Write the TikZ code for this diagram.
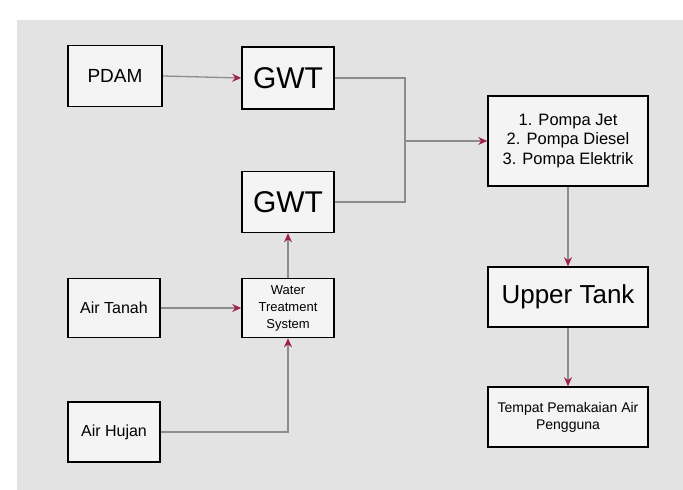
\documentclass[tikz,border=0pt]{standalone}
\usepackage{fontspec}
\setmainfont{Liberation Sans}
\usetikzlibrary{arrows.meta}
\definecolor{bg}{HTML}{E3E3E3}
\definecolor{boxfill}{HTML}{F4F4F4}
\definecolor{linegray}{HTML}{8C8C8C}
\definecolor{arrowred}{HTML}{A0204E}
\begin{document}
\begin{tikzpicture}[x=1pt,y=-1pt,
  blk/.style={draw=black,line width=1.6pt,fill=boxfill,inner sep=0pt,align=center,text=black},
  conn/.style={draw=linegray,line width=1.3pt},
  arr/.style={conn,-{Stealth[length=9pt,width=8pt,color=arrowred]}}]
\useasboundingbox (0,0) rectangle (683,490);
\fill[white] (0,0) rectangle (683,490);
\fill[bg] (17,20) rectangle (683,490);
% boxes
\node[blk,minimum width=94pt,minimum height=61pt,font=\fontsize{19}{23}\selectfont] (pdam) at (115,76) {PDAM};
\node[blk,minimum width=92pt,minimum height=62pt,font=\fontsize{30}{34}\selectfont] (gwta) at (288,78) {GWT};
\node[blk,minimum width=92pt,minimum height=61pt,font=\fontsize{30}{34}\selectfont] (gwtb) at (288,202) {GWT};
\node[blk,minimum width=160pt,minimum height=90pt,font=\fontsize{16.5}{19.5}\selectfont] (pump) at (568,141) {1. Pompa Jet\\2. Pompa Diesel\\3. Pompa Elektrik};
\node[blk,minimum width=160pt,minimum height=60pt,font=\fontsize{26}{30}\selectfont] (upper) at (568,297) {Upper Tank};
\node[blk,minimum width=160pt,minimum height=60pt,font=\fontsize{14}{17}\selectfont] (user) at (568,417) {Tempat Pemakaian Air\\Pengguna};
\node[blk,minimum width=92pt,minimum height=59pt,font=\fontsize{16}{20}\selectfont] (tanah) at (114,308) {Air Tanah};
\node[blk,minimum width=92pt,minimum height=59pt,font=\fontsize{13}{17}\selectfont] (treat) at (288,308) {Water\\Treatment\\System};
\node[blk,minimum width=92pt,minimum height=60pt,font=\fontsize{16}{20}\selectfont] (hujan) at (114,432) {Air Hujan};
% connectors
\coordinate (jmid) at (405,141);
\draw[arr] (pdam.east) -- (gwta.west);
\draw[conn] (gwta.east) -| (jmid) |- (gwtb.east);
\draw[arr] (jmid) -- (pump.west);
\draw[arr] (pump.south) -- (upper.north);
\draw[arr] (upper.south) -- (user.north);
\draw[arr] (tanah.east) -- (treat.west);
\draw[arr] (treat.north) -- (gwtb.south);
\draw[arr] (hujan.east) -| (treat.south);
\end{tikzpicture}
\end{document}
